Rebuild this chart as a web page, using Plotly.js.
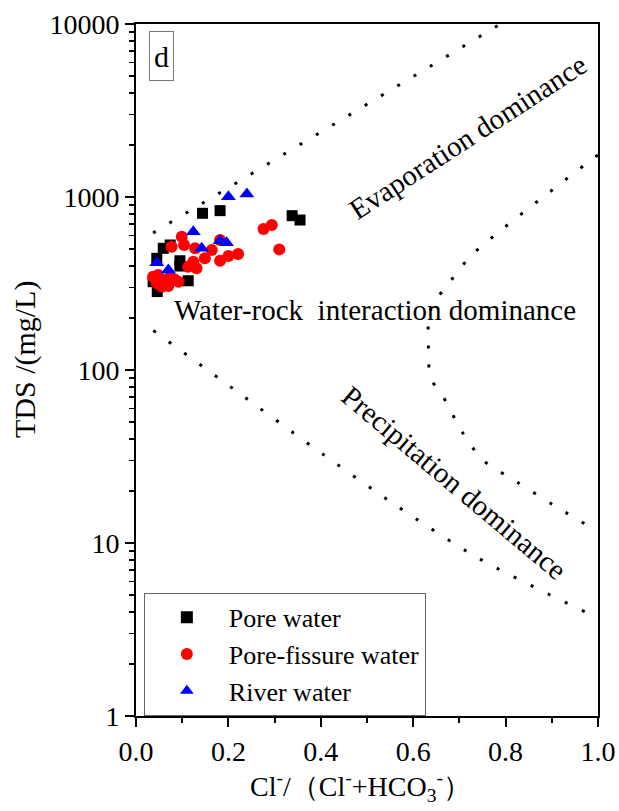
<!DOCTYPE html>
<html>
<head>
<meta charset="utf-8">
<script src="https://cdn.plot.ly/plotly-3.0.1.min.js"></script>
<style>html,body{margin:0;padding:0;background:#fff;}#chart{width:619px;height:811px;}</style>
</head>
<body>
<div id="chart"></div>
<script>
// Pore water (black squares)
var poreX = [0.144, 0.182, 0.338, 0.355, 0.059, 0.074, 0.045, 0.095, 0.095, 0.113, 0.037, 0.046];
var poreY = [805, 834, 780, 736, 505, 528, 442, 428, 399, 328, 324, 284];

// Pore-fissure water (red circles)
var fissX = [0.099, 0.077, 0.104, 0.128, 0.182, 0.164, 0.149, 0.124, 0.113, 0.131, 0.182, 0.200, 0.221, 0.276, 0.294, 0.310, 0.048, 0.045, 0.070, 0.092, 0.074, 0.056, 0.037, 0.060, 0.083];
var fissY = [590, 516, 528, 505, 564, 494, 442, 423, 395, 387, 428, 456, 469, 653, 689, 498, 354, 317, 306, 324, 346, 303, 346, 330, 335];

// River water (blue triangles)
var riverX = [0.200, 0.240, 0.124, 0.142, 0.182, 0.196, 0.045, 0.070];
var riverY = [1004, 1041, 630, 505, 559, 544, 417, 378];

// Boundary curves (Gibbs diagram)
var upperX = [0.037, 0.789];
var upperY = [620, 10000];
var lowerX = [0.0375, 0.213, 0.384, 0.561, 0.740, 0.972];
var lowerY = [169, 77, 35.7, 16.6, 8.2, 4.0];
var rightX = [1.0, 0.990, 0.887, 0.786, 0.723, 0.669, 0.643, 0.633, 0.633, 0.633, 0.640, 0.665, 0.706, 0.751, 0.825, 0.903, 0.976];
var rightY = [1750, 1675, 1028, 630, 452, 297, 243, 190, 143, 112, 87.5, 70, 43.8, 30.2, 22.5, 16.6, 12.7];

var yTickVals = [1, 10, 100, 1000, 10000];
var yTickText = ['1', '10', '100', '1000', '10000'];

var FONT = 'Liberation Serif';
var dotLine = {color: '#000', width: 3, dash: '3px,16px'};

var traces = [
  {x: upperX, y: upperY, mode: 'lines', line: dotLine, showlegend: false, hoverinfo: 'skip'},
  {x: lowerX, y: lowerY, mode: 'lines', line: Object.assign({shape: 'spline', smoothing: 0.8}, dotLine), showlegend: false, hoverinfo: 'skip'},
  {x: rightX, y: rightY, mode: 'lines', line: Object.assign({shape: 'spline', smoothing: 0.8}, dotLine), showlegend: false, hoverinfo: 'skip'},
  {x: poreX, y: poreY, mode: 'markers', name: 'Pore water',
   marker: {symbol: 'square', size: 11, color: '#000'}},
  {x: fissX, y: fissY, mode: 'markers', name: 'Pore-fissure water',
   marker: {symbol: 'circle', size: 12, color: '#ff0000'}},
  {x: riverX, y: riverY, mode: 'markers', name: 'River water',
   marker: {symbol: 'triangle-up', size: 13, color: '#0000ff'}}
];

function ann(x, y, text, opts) {
  return Object.assign({xref: 'paper', yref: 'paper', x: x, y: y, text: text, showarrow: false,
    xanchor: 'center', yanchor: 'middle', font: {family: FONT, size: 29, color: '#000'}}, opts || {});
}

var layout = {
  width: 619, height: 811,
  margin: {l: 136, r: 21, t: 24, b: 95},
  paper_bgcolor: '#fff', plot_bgcolor: '#fff',
  font: {family: FONT, color: '#000', size: 28},
  showlegend: true,
  legend: {x: 0.017, y: 0.178, xanchor: 'left', yanchor: 'top',
    bgcolor: '#fff', bordercolor: '#666', borderwidth: 1,
    font: {family: FONT, size: 26, color: '#000'},
    itemwidth: 74, itemsizing: 'constant', tracegroupgap: 0},
  xaxis: {range: [0, 1], dtick: 0.2, tickformat: '.1f',
    showgrid: false, zeroline: false,
    showline: true, linecolor: '#000', linewidth: 2, mirror: true,
    ticks: 'outside', ticklen: 9, tickwidth: 2, tickcolor: '#000',
    tickfont: {family: FONT, size: 28, color: '#000'},
    minor: {dtick: 0.1, ticks: 'outside', ticklen: 5, tickwidth: 2, tickcolor: '#000', showgrid: false}},
  yaxis: {type: 'log', range: [0, 4], tickvals: yTickVals, ticktext: yTickText,
    showgrid: false, zeroline: false,
    showline: true, linecolor: '#000', linewidth: 2, mirror: true,
    ticks: 'outside', ticklen: 9, tickwidth: 2, tickcolor: '#000',
    tickfont: {family: FONT, size: 28, color: '#000'},
    minor: {dtick: 'D1', ticks: 'outside', ticklen: 5, tickwidth: 1.5, tickcolor: '#000', showgrid: false}},
  annotations: [
    ann(0.0552, 0.954, 'd', {font: {family: FONT, size: 30, color: '#000'}, bordercolor: '#777', borderwidth: 1,
      width: 19, height: 44, borderpad: 2, bgcolor: '#fff'}),
    ann(0.718, 0.836, 'Evaporation dominance', {textangle: -33}),
    ann(0.517, 0.587, 'Water-rock&nbsp; interaction dominance'),
    ann(0.690, 0.337, 'Precipitation dominance', {textangle: 40}),
    ann(0.485, -0.1026, 'Cl<sup>-</sup>/（Cl<sup>-</sup>+HCO<sub>3</sub><sup>-</sup>）', {font: {family: FONT, size: 28, color: '#000'}}),
    ann(-0.240, 0.516, 'TDS /(mg/L)', {textangle: -90, font: {family: FONT, size: 30, color: '#000'}})
  ]
};

Plotly.newPlot('chart', traces, layout, {displayModeBar: false, staticPlot: true});
</script>
</body>
</html>
